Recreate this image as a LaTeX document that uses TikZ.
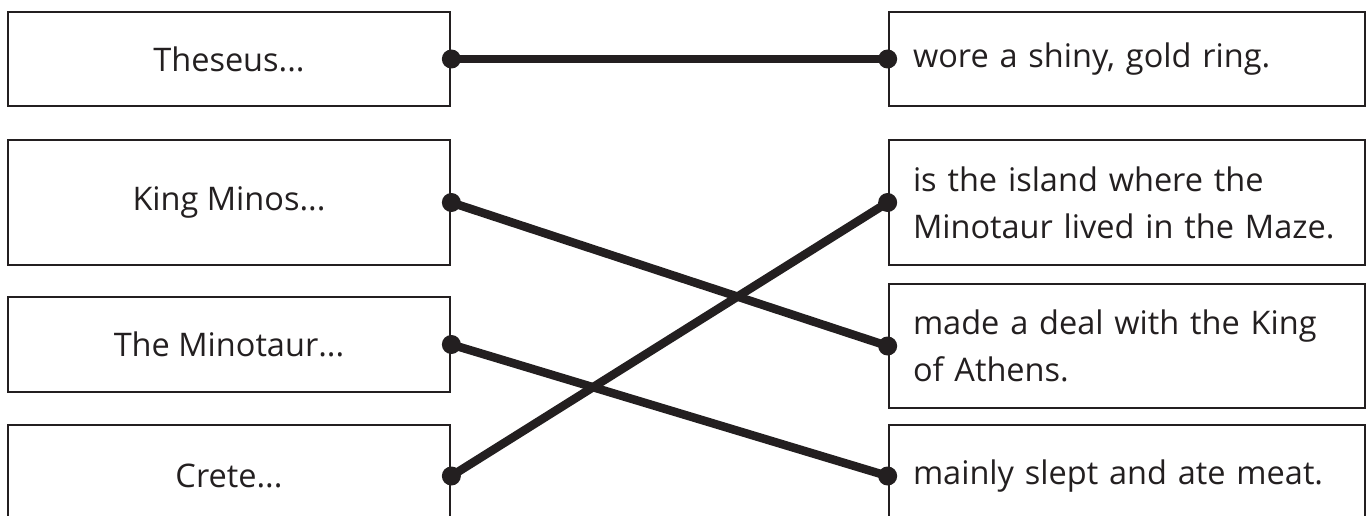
\documentclass[tikz,border=0pt]{standalone}
\usepackage{fontspec}
\setmainfont{Open Sans}
\definecolor{inkgray}{HTML}{231F20}
\tikzstyle{leftbox} = [rectangle, draw=inkgray, line width=2.7pt,
    minimum width=442pt, inner sep=0pt, text=inkgray]
\tikzstyle{rightbox} = [rectangle, draw=inkgray, line width=2.7pt,
    minimum width=476pt, text width=428pt, inner xsep=24pt, inner ysep=0pt,
    align=left, text=inkgray]
\tikzstyle{line} = [draw=inkgray, line width=8.5pt]
\tikzstyle{dot} = [fill=inkgray]

\begin{document}
\begin{tikzpicture}[x=1pt, y=-1pt,
    every node/.style={font=\fontsize{32.5}{47}\selectfont}]

    \useasboundingbox (0,0) rectangle (1370,516);
    \clip (0,0) rectangle (1370,516);

    % Place nodes, left column
    \node [leftbox, minimum height=94pt] (theseus) at (229,59) {Theseus...};
    \node [leftbox, minimum height=125pt] (minos) at (229,202.5) {King Minos...};
    \node [leftbox, minimum height=95pt] (minotaur) at (229,344.5) {The Minotaur...};
    \node [leftbox, minimum height=102pt] (crete) at (229,476) {Crete...};

    % Place nodes, right column
    \node [rightbox, minimum height=94pt] (ring) at (1127,59) {wore a shiny, gold ring.};
    \node [rightbox, minimum height=125pt] (island) at (1127,202.5)
        {is the island where the\\Minotaur lived in the Maze.};
    \node [rightbox, minimum height=124pt] (deal) at (1127,346)
        {made a deal with the King\\of Athens.};
    \node [rightbox, minimum height=102pt] (slept) at (1127,476) {mainly slept and ate meat.};

    \begin{scope}[every path/.style=line]
    % matching lines
    \path (theseus.east) -- (ring.west);
    \path (minos.east) -- (deal.west);
    \path (minotaur.east) -- (slept.west);
    \path (crete.east) -- (island.west);
    \end{scope}

    % dots on the box edges
    \fill [dot] (theseus.east) circle (9.5pt);
    \fill [dot] (minos.east) circle (9.5pt);
    \fill [dot] (minotaur.east) circle (9.5pt);
    \fill [dot] (crete.east) circle (9.5pt);
    \fill [dot] (ring.west) circle (9.5pt);
    \fill [dot] (island.west) circle (9.5pt);
    \fill [dot] (deal.west) circle (9.5pt);
    \fill [dot] (slept.west) circle (9.5pt);

\end{tikzpicture}
\end{document}
